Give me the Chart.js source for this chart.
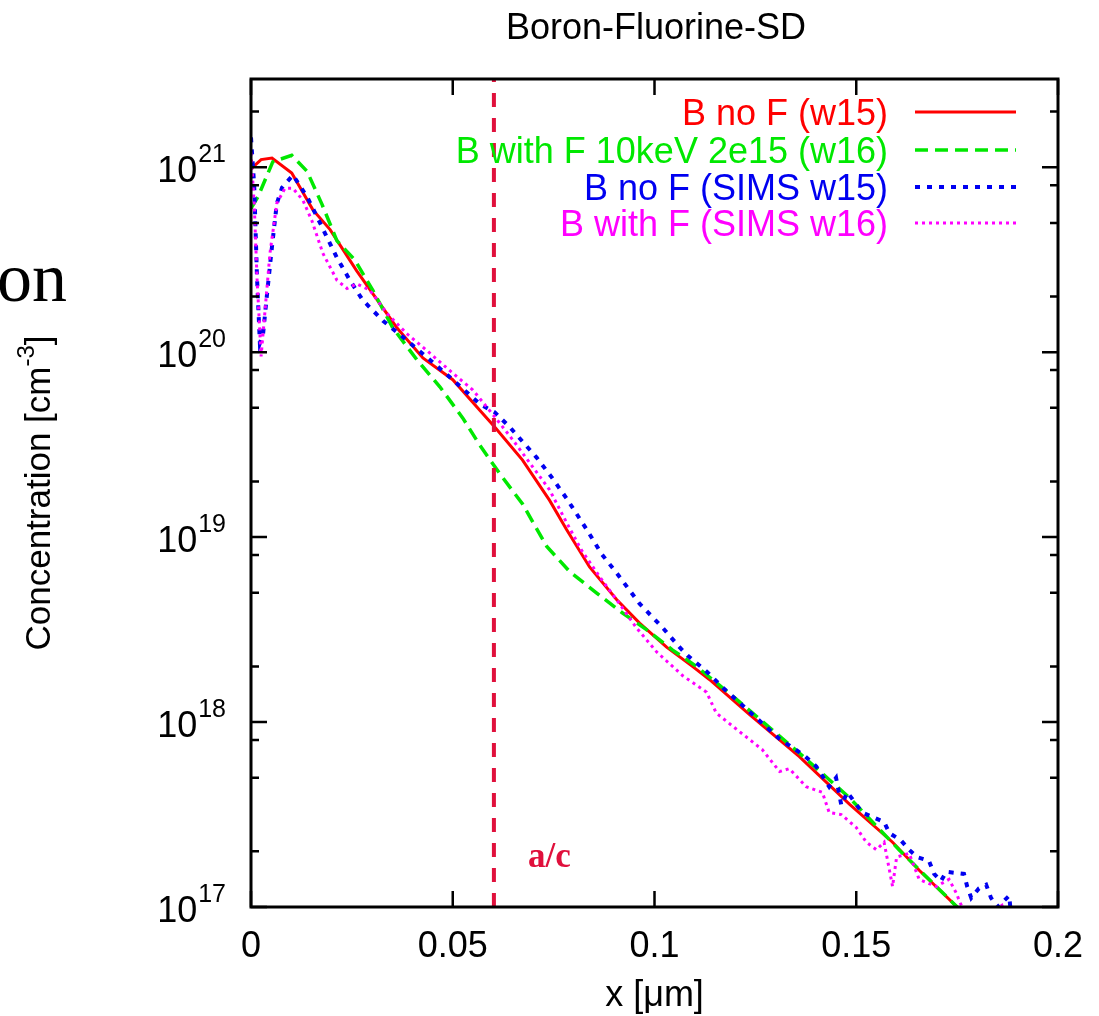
<!DOCTYPE html>
<html>
<head>
<meta charset="utf-8">
<script src="https://cdn.jsdelivr.net/npm/chart.js@4.4.1/dist/chart.umd.min.js"></script>
<style>
  html, body { margin: 0; padding: 0; background: #fff; }
  canvas { display: block; }
</style>
</head>
<body>
<canvas id="grafico" width="1099" height="1016"></canvas>
<script>
// dados (x em um, concentracao em cm-3)
const seriesLabels = ['B no F (w15)', 'B with F 10keV 2e15 (w16)', 'B no F (SIMS w15)', 'B with F (SIMS w16)'];

const redX = [0, 0.0025, 0.0052, 0.0101, 0.0153, 0.0196, 0.0262, 0.0361, 0.0426, 0.05, 0.0567, 0.0604, 0.0673, 0.074,
  0.0782, 0.0839, 0.0906, 0.0963, 0.103, 0.1094, 0.1136, 0.1235, 0.1359, 0.1483, 0.159, 0.1656, 0.175, 0.178];
const redY = [9.8e20, 1.10e21, 1.12e21, 9.3e20, 5.9e20, 4.6e20, 2.75e20, 1.36e20, 9.3e19, 7.1e19, 4.85e19, 3.94e19, 2.61e19, 1.58e19,
  1.10e19, 6.9e18, 4.6e18, 3.43e18, 2.54e18, 2.0e18, 1.70e18, 1.10e18, 6.5e17, 3.6e17, 2.24e17, 1.58e17, 1.0e17, 8.3e16];

const greenX = [0, 0.0017, 0.0054, 0.0101, 0.0139, 0.0176, 0.0213, 0.0257, 0.0302, 0.0351, 0.0411, 0.0468, 0.0525, 0.0567,
  0.0616, 0.0673, 0.0733, 0.079, 0.0856, 0.092, 0.098, 0.1045, 0.1104, 0.121, 0.1359, 0.1483, 0.1606, 0.175, 0.178];
const greenY = [6.0e20, 6.9e20, 1.07e21, 1.16e21, 9.5e20, 6.3e20, 4.0e20, 3.16e20, 2.16e20, 1.36e20, 9.1e19, 6.5e19, 4.4e19, 3.14e19,
  2.21e19, 1.51e19, 8.9e18, 6.5e18, 5.0e18, 3.9e18, 3.16e18, 2.45e18, 2.0e18, 1.29e18, 6.8e17, 3.9e17, 2.04e17, 1.0e17, 8.5e16];

const blueX = [0, 0.0008, 0.0015, 0.0022, 0.003, 0.004, 0.0052, 0.0064, 0.0077, 0.0104, 0.0139, 0.0171, 0.0213, 0.0245, 0.0277,
  0.0327, 0.0386, 0.0443, 0.05, 0.0567, 0.0604, 0.0641, 0.0708, 0.0745, 0.0782, 0.0832, 0.0869, 0.0906, 0.0963, 0.102, 0.1062,
  0.1082, 0.1131, 0.1173, 0.1243, 0.131, 0.1371, 0.1401, 0.1433, 0.145, 0.1463, 0.1478, 0.1515, 0.1569, 0.1582, 0.1611, 0.1631,
  0.1651, 0.168, 0.1693, 0.171, 0.1723, 0.1767, 0.1775, 0.1785, 0.1804, 0.1822, 0.1834, 0.185, 0.1879, 0.1885];
const blueY = [1.45e21, 7.9e20, 2.5e20, 1.12e20, 1.26e20, 2.09e20, 3.72e20, 6.38e20, 7.76e20, 9.06e20, 6.92e20, 5.0e20, 3.24e20, 2.45e20, 1.91e20,
  1.48e20, 1.16e20, 9.1e19, 7.1e19, 5.25e19, 4.73e19, 3.94e19, 2.69e19, 2.11e19, 1.62e19, 1.10e19, 8.1e18, 6.4e18, 4.37e18, 3.24e18, 2.54e18,
  2.29e18, 1.86e18, 1.51e18, 1.10e18, 8.1e17, 6.6e17, 5.75e17, 4.47e17, 5.0e17, 3.55e17, 4.17e17, 3.24e17, 2.88e17, 2.51e17, 2.29e17, 2.04e17,
  1.86e17, 1.78e17, 1.51e17, 1.38e17, 1.55e17, 1.51e17, 1.29e17, 1.12e17, 1.26e17, 1.32e17, 1.12e17, 1.0e17, 1.15e17, 8.5e16];

const magentaX = [0, 0.0008, 0.0015, 0.0025, 0.0035, 0.0047, 0.0064, 0.0084, 0.0104, 0.0129, 0.0151, 0.0178, 0.0213, 0.0238, 0.0262,
  0.0295, 0.0337, 0.0386, 0.0436, 0.0493, 0.055, 0.0604, 0.0649, 0.0698, 0.074, 0.0782, 0.0819, 0.0864, 0.0913, 0.0955, 0.1005,
  0.107, 0.1129, 0.1153, 0.121, 0.1267, 0.131, 0.1334, 0.1376, 0.1416, 0.1433, 0.1463, 0.15, 0.1525, 0.155, 0.1569, 0.159, 0.16,
  0.1631, 0.1656, 0.1698, 0.173, 0.1747, 0.1762, 0.178, 0.184, 0.1861, 0.187];
const magentaY = [1.2e21, 6.3e20, 2.5e20, 9.5e19, 1.70e20, 3.43e20, 6.38e20, 7.69e20, 7.69e20, 6.61e20, 5.13e20, 3.43e20, 2.45e20, 2.21e20, 2.34e20,
  2.16e20, 1.62e20, 1.26e20, 1.02e20, 7.94e19, 6.24e19, 4.47e19, 3.35e19, 2.40e19, 1.80e19, 1.20e19, 8.5e18, 6.1e18, 4.37e18, 3.24e18, 2.40e18,
  1.78e18, 1.45e18, 1.12e18, 8.9e17, 7.1e17, 5.4e17, 5.6e17, 4.47e17, 4.17e17, 3.24e17, 3.16e17, 2.69e17, 2.24e17, 2.04e17, 2.24e17, 1.29e17, 1.86e17,
  1.95e17, 1.41e17, 1.29e17, 1.41e17, 1.20e17, 1.0e17, 9e16, 9.5e16, 1.02e17, 9e16];

// linha vertical a/c
const acX = [0.0602, 0.0602];
const acY = [1e17, 3e21];

// eixos
const xTicks = [0, 0.05, 0.1, 0.15, 0.2];
const xTickLabels = ['0', '0.05', '0.1', '0.15', '0.2'];
const yDecades = [17, 18, 19, 20, 21];
const yMinorMult = [2, 5, 8];

const toPoints = (xs, ys) => xs.map((v, i) => ({ x: v, y: ys[i] }));

const FONT = '"Liberation Sans", Arial, sans-serif';

// desenha moldura, ticks, textos e legenda
const molduraPlugin = {
  id: 'moldura',
  afterDatasetsDraw(chart) {
    const { ctx, chartArea: a, scales: { x, y } } = chart;
    ctx.save();
    ctx.strokeStyle = '#000';
    ctx.lineWidth = 2.5;
    ctx.beginPath();
    // ticks do eixo x (embaixo e em cima)
    xTicks.forEach(v => {
      const px = x.getPixelForValue(v);
      ctx.moveTo(px, a.bottom); ctx.lineTo(px, a.bottom - 16);
      ctx.moveTo(px, a.top); ctx.lineTo(px, a.top + 16);
    });
    // ticks do eixo y (esquerda e direita)
    yDecades.forEach(d => {
      const py = y.getPixelForValue(Math.pow(10, d));
      ctx.moveTo(a.left, py); ctx.lineTo(a.left + 16, py);
      ctx.moveTo(a.right, py); ctx.lineTo(a.right - 16, py);
      yMinorMult.forEach(m => {
        const val = m * Math.pow(10, d);
        if (val > y.max) return;
        const pm = y.getPixelForValue(val);
        ctx.moveTo(a.left, pm); ctx.lineTo(a.left + 8, pm);
        ctx.moveTo(a.right, pm); ctx.lineTo(a.right - 8, pm);
      });
    });
    ctx.stroke();
    ctx.lineWidth = 3;
    ctx.strokeRect(a.left, a.top, a.right - a.left, a.bottom - a.top);

    ctx.fillStyle = '#000';
    ctx.textBaseline = 'alphabetic';

    // rotulos x
    ctx.font = '36px ' + FONT;
    ctx.textAlign = 'center';
    xTicks.forEach((v, i) => ctx.fillText(xTickLabels[i], x.getPixelForValue(v), a.bottom + 50));

    // rotulos y com expoente
    yDecades.forEach(d => {
      const py = y.getPixelForValue(Math.pow(10, d));
      ctx.textAlign = 'right';
      ctx.font = '25px ' + FONT;
      const exp = String(d);
      const ew = ctx.measureText(exp).width;
      ctx.fillText(exp, a.left - 25, py - 5);
      ctx.font = '36px ' + FONT;
      ctx.fillText('10', a.left - 26 - ew, py + 15);
    });

    // titulo
    ctx.textAlign = 'center';
    ctx.font = '36px ' + FONT;
    ctx.fillText('Boron-Fluorine-SD', 656, 39);

    // titulo eixo x
    ctx.font = '36px ' + FONT;
    ctx.fillText('x [\u03bcm]', (a.left + a.right) / 2, 1006);

    // titulo eixo y (rotacionado)
    ctx.save();
    ctx.translate(50, (a.top + a.bottom) / 2);
    ctx.rotate(-Math.PI / 2);
    ctx.font = '35px ' + FONT;
    const p1 = 'Concentration [cm', p3 = ']';
    const w1 = ctx.measureText(p1).width, w3 = ctx.measureText(p3).width;
    ctx.font = '24px ' + FONT;
    const w2 = ctx.measureText('-3').width;
    let sx = -(w1 + w2 + w3) / 2;
    ctx.textAlign = 'left';
    ctx.font = '35px ' + FONT;
    ctx.fillText(p1, sx, 0);
    ctx.font = '24px ' + FONT;
    ctx.fillText('-3', sx + w1, -16);
    ctx.font = '35px ' + FONT;
    ctx.fillText(p3, sx + w1 + w2, 0);
    ctx.restore();

    // texto cortado a esquerda
    ctx.textAlign = 'left';
    ctx.font = '70px "Liberation Serif", serif';
    ctx.fillText('on', -3, 301);

    // marcador a/c
    ctx.fillStyle = '#e0103c';
    ctx.font = 'bold 35px "Liberation Serif", serif';
    ctx.fillText('a/c', 528, 867);

    // legenda
    const rows = [112, 150, 187, 223];
    chart.data.datasets.slice(0, 4).forEach((ds, i) => {
      const cy = rows[i];
      ctx.fillStyle = ds.borderColor;
      ctx.font = '36px ' + FONT;
      ctx.textAlign = 'right';
      ctx.fillText(ds.label, 888, cy + 13);
      ctx.strokeStyle = ds.borderColor;
      ctx.lineWidth = ds.borderWidth;
      ctx.setLineDash(ds.borderDash || []);
      ctx.beginPath();
      ctx.moveTo(915, cy);
      ctx.lineTo(1016, cy);
      ctx.stroke();
    });
    ctx.setLineDash([]);
    ctx.restore();
  }
};

new Chart(document.getElementById('grafico'), {
  type: 'line',
  data: {
    datasets: [
      { label: seriesLabels[0], data: toPoints(redX, redY), borderColor: '#ff0000', borderWidth: 3, order: 5 },
      { label: seriesLabels[1], data: toPoints(greenX, greenY), borderColor: '#00e800', borderWidth: 3.5, borderDash: [13, 7], order: 4 },
      { label: seriesLabels[2], data: toPoints(blueX, blueY), borderColor: '#0000f0', borderWidth: 4, borderDash: [5, 7], order: 3 },
      { label: seriesLabels[3], data: toPoints(magentaX, magentaY), borderColor: '#ff00ff', borderWidth: 3, borderDash: [3, 4], order: 2 },
      { label: 'a/c', data: toPoints(acX, acY), borderColor: '#e0103c', borderWidth: 4, borderDash: [14, 11], order: 1 }
    ]
  },
  options: {
    responsive: false,
    animation: false,
    events: [],
    elements: { point: { radius: 0 }, line: { tension: 0, fill: false } },
    layout: { padding: { left: 251, right: 41, top: 79, bottom: 109 } },
    plugins: { legend: { display: false }, tooltip: { enabled: false }, title: { display: false } },
    scales: {
      x: { type: 'linear', min: 0, max: 0.2, display: false },
      y: { type: 'logarithmic', min: 1e17, max: 3e21, display: false }
    }
  },
  plugins: [molduraPlugin]
});
</script>
</body>
</html>
